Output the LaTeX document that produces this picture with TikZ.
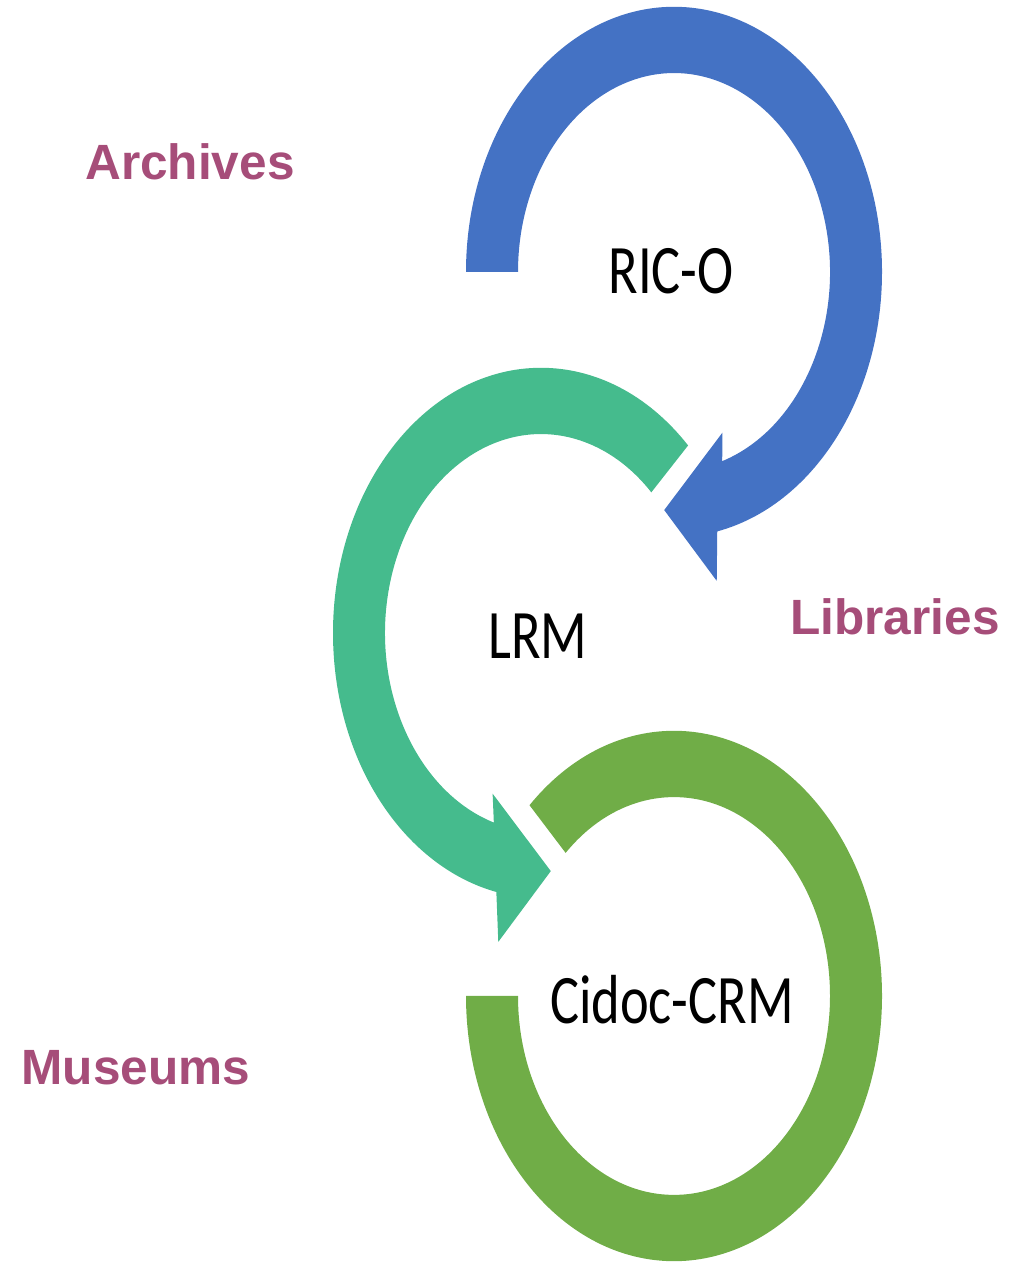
\documentclass[tikz,border=0pt]{standalone}
\usepackage{fontspec}
\usepackage{tikz}
\newfontfamily\headfont{Liberation Sans}
\newfontfamily\ringfont{Carlito}
\definecolor{ricoblue}{RGB}{68,114,196}
\definecolor{lrmteal}{RGB}{69,187,141}
\definecolor{crmgreen}{RGB}{112,173,71}
\definecolor{sectorpink}{RGB}{166,77,121}
\tikzset{
  sector/.style={font=\headfont\bfseries\fontsize{14.1}{17}\selectfont, text=sectorpink, inner sep=0pt},
  modelname/.style={font=\ringfont\fontsize{15.5}{18}\selectfont, text=black, inner sep=0pt, yscale=1.275},
  ring/.style={draw=none, fill=#1}
}
\begin{document}
\begin{tikzpicture}
  \useasboundingbox (0,0) rectangle (10.14,12.65);

  % RIC-O ring, ends in the arrow that points into LRM
  \begin{scope}[shift={(6.74,9.93)}, yscale=1.275]
    \fill[ring=ricoblue] (180:2.08) arc[start angle=180, end angle=-78, radius=2.08]
      -- (-80:2.46) -- (-93:1.87) -- (-69:1.35) -- (-72:1.56)
      arc[start angle=-72, end angle=180, radius=1.56] -- cycle;
  \end{scope}

  % LRM ring, ends in the arrow that points into Cidoc-CRM
  \begin{scope}[shift={(5.41,6.32)}, yscale=1.275]
    \fill[ring=lrmteal] (45:2.08) arc[start angle=45, end angle=257.6, radius=2.08]
      -- (260:2.46) -- (273:1.87) -- (249:1.35) -- (252.4:1.56)
      arc[start angle=252.4, end angle=45, radius=1.56] -- cycle;
  \end{scope}

  % Cidoc-CRM ring (no arrow)
  \begin{scope}[shift={(6.74,2.69)}, yscale=1.275]
    \fill[ring=crmgreen] (134:2.08) arc[start angle=134, end angle=-180, radius=2.08]
      -- (-180:1.56) arc[start angle=-180, end angle=134, radius=1.56] -- cycle;
  \end{scope}

  % models
  \node[modelname] (rico) at (6.71,9.94) {RIC-O};
  \node[modelname] (lrm)  at (5.38,6.29) {LRM};
  \node[modelname] (crm)  at (6.72,2.65) {Cidoc-CRM};

  % domains
  \node[sector] (archives)  at (1.90,11.03) {Archives};
  \node[sector] (libraries) at (8.95,6.48)  {Libraries};
  \node[sector] (museums)   at (1.36,1.97)  {Museums};
\end{tikzpicture}
\end{document}
